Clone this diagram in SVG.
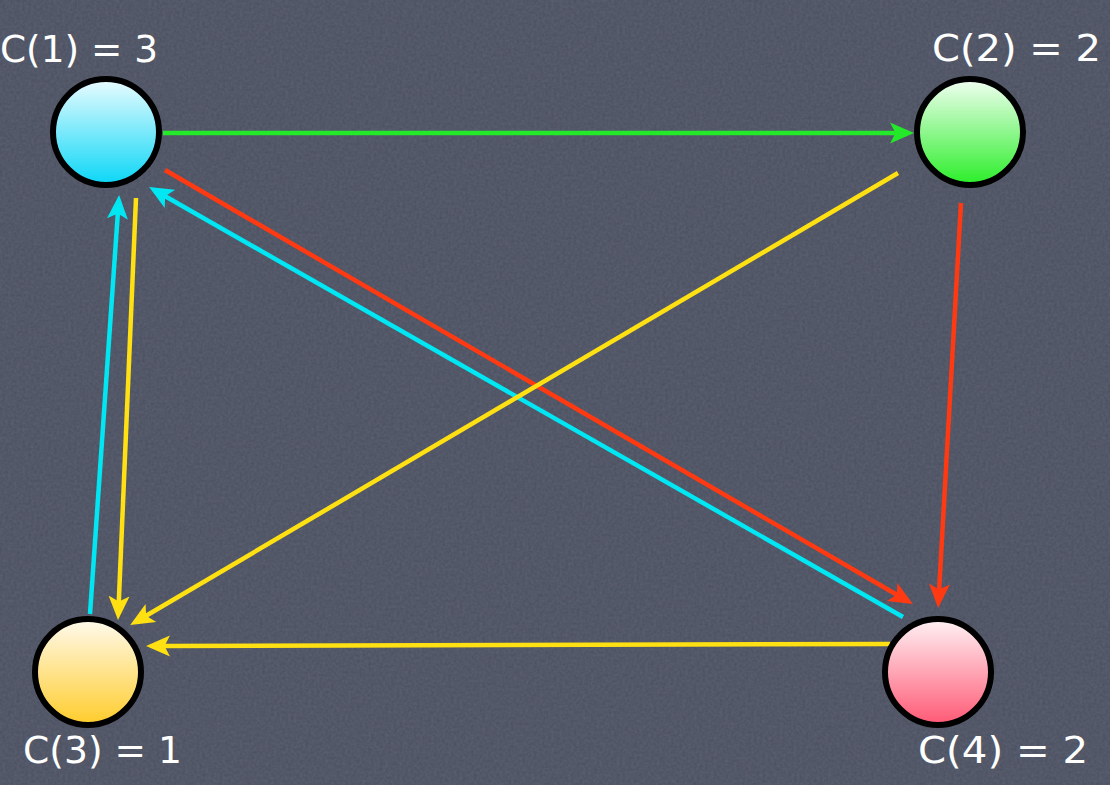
<svg xmlns="http://www.w3.org/2000/svg" width="1110" height="785" viewBox="0 0 1110 785">
<style>
.lbl{font-family:"DejaVu Sans","Liberation Sans",sans-serif;font-size:38px;fill:#ffffff}
.e{fill:none;stroke-width:4.5}
.node{stroke:#000;stroke-width:6}
</style>
<defs>
<filter id="noise" x="0" y="0" width="100%" height="100%">
<feTurbulence type="fractalNoise" baseFrequency="0.35" numOctaves="2" seed="4"/>
<feColorMatrix type="matrix" values="0 0 0 0 1  0 0 0 0 1  0 0 0 0 1  0 0 0 0.10 0"/>
</filter>
<linearGradient id="gC" x1="0" y1="0" x2="0" y2="1"><stop offset="0" stop-color="#eafcff"/><stop offset="1" stop-color="#0ad6f6"/></linearGradient>
<linearGradient id="gG" x1="0" y1="0" x2="0" y2="1"><stop offset="0" stop-color="#f2fff2"/><stop offset="1" stop-color="#2aee28"/></linearGradient>
<linearGradient id="gY" x1="0" y1="0" x2="0" y2="1"><stop offset="0" stop-color="#fffaee"/><stop offset="1" stop-color="#ffcc2a"/></linearGradient>
<linearGradient id="gR" x1="0" y1="0" x2="0" y2="1"><stop offset="0" stop-color="#fff2f5"/><stop offset="1" stop-color="#ff5874"/></linearGradient>
<marker id="aG" markerUnits="userSpaceOnUse" markerWidth="26" markerHeight="24" viewBox="0 0 26 24" refX="8" refY="12" orient="auto"><path d="M0,1.5 L24,12 L0,22.5 L5.5,12 Z" fill="#24e82a"/></marker>
<marker id="aR" markerUnits="userSpaceOnUse" markerWidth="26" markerHeight="24" viewBox="0 0 26 24" refX="8" refY="12" orient="auto"><path d="M0,1.5 L24,12 L0,22.5 L5.5,12 Z" fill="#ff3a12"/></marker>
<marker id="aC" markerUnits="userSpaceOnUse" markerWidth="26" markerHeight="24" viewBox="0 0 26 24" refX="8" refY="12" orient="auto"><path d="M0,1.5 L24,12 L0,22.5 L5.5,12 Z" fill="#00e6f2"/></marker>
<marker id="aY" markerUnits="userSpaceOnUse" markerWidth="26" markerHeight="24" viewBox="0 0 26 24" refX="8" refY="12" orient="auto"><path d="M0,1.5 L24,12 L0,22.5 L5.5,12 Z" fill="#ffe012"/></marker>
</defs>
<rect width="1110" height="785" fill="#4a4f60"/>
<rect width="1110" height="785" filter="url(#noise)"/>
<g id="connectors">
<path class="e" d="M163,133 L898,133" stroke="#24e82a" marker-end="url(#aG)"/>
<path class="e" d="M165,170 L899,596" stroke="#ff3a12" marker-end="url(#aR)"/>
<path class="e" d="M903,617 L163,195" stroke="#00e6f2" marker-end="url(#aC)"/>
<path class="e" d="M961,203 L939,592" stroke="#ff3a12" marker-end="url(#aR)"/>
<path class="e" d="M90,614 L118,211" stroke="#00e6f2" marker-end="url(#aC)"/>
<path class="e" d="M136,198 L118.7,604" stroke="#ffe012" marker-end="url(#aY)"/>
<path class="e" d="M898,173 L144,617" stroke="#ffe012" marker-end="url(#aY)"/>
<path class="e" d="M890,644 L162,646" stroke="#ffe012" marker-end="url(#aY)"/>
</g>
<g id="n1"><circle class="node" cx="106" cy="132" r="53" fill="url(#gC)"/><text class="lbl" x="0" y="62" textLength="158" lengthAdjust="spacingAndGlyphs">C(1) = 3</text></g>
<g id="n2"><circle class="node" cx="970" cy="132" r="53" fill="url(#gG)"/><text class="lbl" x="932" y="61" textLength="169" lengthAdjust="spacingAndGlyphs">C(2) = 2</text></g>
<g id="n3"><circle class="node" cx="88" cy="672" r="53" fill="url(#gY)"/><text class="lbl" x="23" y="763" textLength="159" lengthAdjust="spacingAndGlyphs">C(3) = 1</text></g>
<g id="n4"><circle class="node" cx="938" cy="672" r="53" fill="url(#gR)"/><text class="lbl" x="918" y="763" textLength="170" lengthAdjust="spacingAndGlyphs">C(4) = 2</text></g>
</svg>
